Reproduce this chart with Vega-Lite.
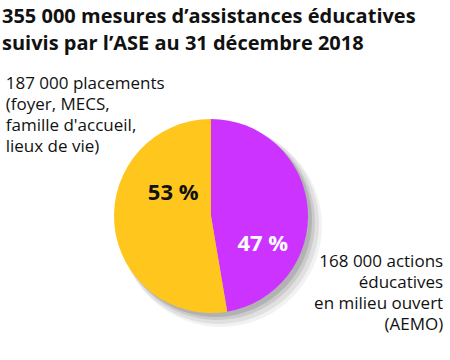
{
  "$schema": "https://vega.github.io/schema/vega-lite/v6.json",
  "width": 422,
  "height": 288,
  "autosize": {"type": "none"},
  "padding": {"left": 0, "top": 72, "right": 28, "bottom": 0},
  "background": "white",
  "title": {
    "text": ["355 000 mesures d’assistances éducatives", "suivis par l’ASE au 31 décembre 2018"],
    "anchor": "start",
    "frame": "group",
    "dx": 2,
    "font": "Open Sans",
    "fontSize": 20,
    "fontWeight": "bold",
    "lineHeight": 27,
    "color": "#111111",
    "offset": 18
  },
  "config": {"view": {"stroke": null}},
  "data": {
    "values": [
      {"cat": "AEMO", "value": 168000, "order": 1, "pct": "47 %", "label": "168 000 actions\néducatives\nen milieu ouvert\n(AEMO)"},
      {"cat": "Placements", "value": 187000, "order": 2, "pct": "53 %", "label": "187 000 placements\n(foyer, MECS,\nfamille d'accueil,\nlieux de vie)"}
    ]
  },
  "transform": [
    {"stack": "value", "groupby": [], "sort": [{"field": "order"}], "as": ["v0", "v1"]},
    {"calculate": "(datum.v0 + datum.v1) / 2", "as": "mid"}
  ],
  "layer": [
    {
      "mark": {"type": "arc", "outerRadius": 101, "x": {"expr": "width/2+10"}, "y": {"expr": "height/2+10"}, "opacity": 0.05, "color": "#000000"},
      "encoding": {
        "theta": {"field": "v0", "type": "quantitative", "scale": {"domain": [0, 355000]}},
        "theta2": {"field": "v1"}
      }
    },
    {
      "mark": {"type": "arc", "outerRadius": 100, "x": {"expr": "width/2+8"}, "y": {"expr": "height/2+8"}, "opacity": 0.07, "color": "#000000"},
      "encoding": {
        "theta": {"field": "v0", "type": "quantitative", "scale": {"domain": [0, 355000]}},
        "theta2": {"field": "v1"}
      }
    },
    {
      "mark": {"type": "arc", "outerRadius": 98, "x": {"expr": "width/2+6"}, "y": {"expr": "height/2+6"}, "opacity": 0.09, "color": "#000000"},
      "encoding": {
        "theta": {"field": "v0", "type": "quantitative", "scale": {"domain": [0, 355000]}},
        "theta2": {"field": "v1"}
      }
    },
    {
      "mark": {"type": "arc", "outerRadius": 97, "x": {"expr": "width/2+4"}, "y": {"expr": "height/2+4"}, "opacity": 0.12, "color": "#000000"},
      "encoding": {
        "theta": {"field": "v0", "type": "quantitative", "scale": {"domain": [0, 355000]}},
        "theta2": {"field": "v1"}
      }
    },
    {
      "mark": {"type": "arc", "outerRadius": 97},
      "encoding": {
        "theta": {"field": "v0", "type": "quantitative", "scale": {"domain": [0, 355000]}},
        "theta2": {"field": "v1"},
        "color": {
          "field": "cat",
          "type": "nominal",
          "scale": {"domain": ["AEMO", "Placements"], "range": ["#CC33FF", "#FFC61E"]},
          "legend": null
        }
      }
    },
    {
      "transform": [{"filter": "datum.cat == 'Placements'"}],
      "mark": {"type": "text", "radius": 42, "dy": -27, "dx": 4, "font": "Open Sans", "fontSize": 22, "fontWeight": "bold", "align": "center", "baseline": "middle", "color": "#111111"},
      "encoding": {
        "theta": {"field": "mid", "type": "quantitative", "scale": {"domain": [0, 355000]}},
        "text": {"field": "pct"}
      }
    },
    {
      "transform": [{"filter": "datum.cat == 'AEMO'"}],
      "mark": {"type": "text", "radius": 52, "dy": 32, "font": "Open Sans", "fontSize": 22, "fontWeight": "bold", "align": "center", "baseline": "middle", "color": "#ffffff"},
      "encoding": {
        "theta": {"field": "mid", "type": "quantitative", "scale": {"domain": [0, 355000]}},
        "text": {"field": "pct"}
      }
    },
    {
      "transform": [{"filter": "datum.cat == 'Placements'"}],
      "mark": {"type": "text", "radius": 206, "dy": -144, "font": "Open Sans", "fontSize": 17, "lineHeight": 21, "lineBreak": "\n", "align": "left", "baseline": "alphabetic", "color": "#111111"},
      "encoding": {
        "theta": {"field": "mid", "type": "quantitative", "scale": {"domain": [0, 355000]}},
        "text": {"field": "label"}
      }
    },
    {
      "transform": [{"filter": "datum.cat == 'AEMO'"}],
      "mark": {"type": "text", "radius": 233, "dy": 71, "font": "Open Sans", "fontSize": 17, "lineHeight": 21, "lineBreak": "\n", "align": "right", "baseline": "alphabetic", "color": "#111111"},
      "encoding": {
        "theta": {"field": "mid", "type": "quantitative", "scale": {"domain": [0, 355000]}},
        "text": {"field": "label"}
      }
    }
  ]
}
